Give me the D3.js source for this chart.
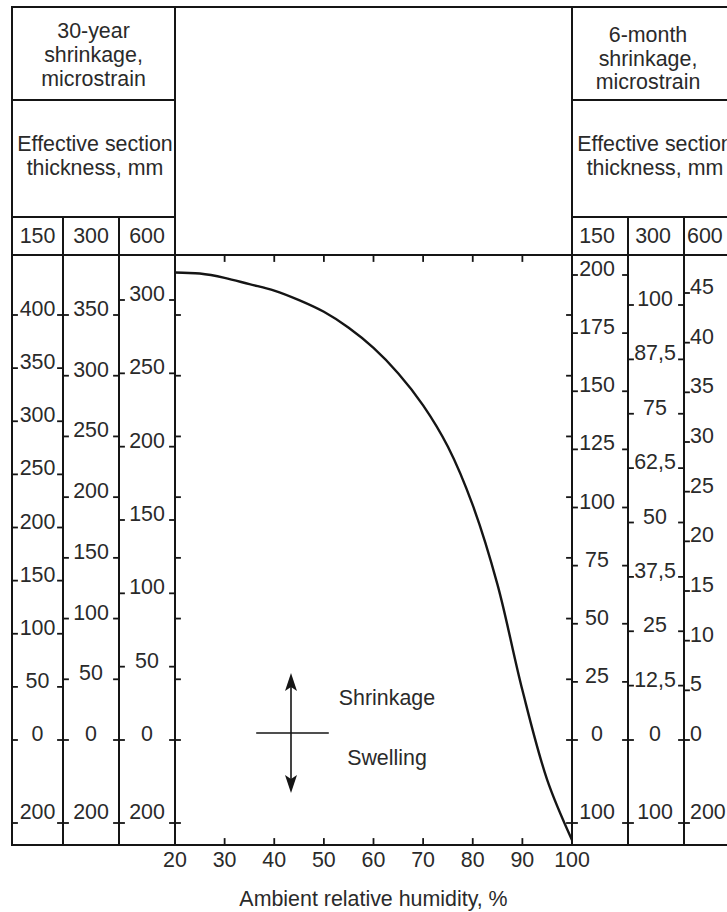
<!DOCTYPE html>
<html><head><meta charset="utf-8">
<script src="https://cdn.jsdelivr.net/npm/d3@7"></script>
<style>
html,body{margin:0;padding:0;background:#fff;}
svg{display:block;}
text{font-family:"Liberation Sans", Arial, Helvetica, sans-serif; fill:#2a2a2a; font-size:21.4px;}
</style></head><body>
<svg id="c" width="727" height="912"></svg>
<script>
// ---- data ----
const humidity = [20,25,30,35,40,45,50,55,60,65,70,75,80,85,90,95,100];
const shrinkage30y150 = [440,439,435,429,423,414,403,388,369,345,315,276,221,146,47,-96,-241];
const xTicks = [20,30,40,50,60,70,80,90,100];
const thicknesses = ["150","300","600"];
const ticks30y150 = [0,50,100,150,200,250,300,350,400];
const ticks30y300 = [0,50,100,150,200,250,300,350];
const ticks30y600 = [0,50,100,150,200,250,300];
const ticks6m150 = [0,25,50,75,100,125,150,175,200];
const ticks6m300 = [0,12.5,25,37.5,50,62.5,75,87.5,100];
const ticks6m600 = [0,5,10,15,20,25,30,35,40,45];
const swelling30y = [200,200,200];
const swelling6m = [100,100,200];
const header30y = ["30-year","shrinkage,","microstrain"];
const header6m = ["6-month","shrinkage,","microstrain"];
const headerThickness = ["Effective section","thickness, mm"];
const xTitle = "Ambient relative humidity, %";
const shrinkLabel = "Shrinkage", swellLabel = "Swelling";

// ---- layout ----
const svg = d3.select("#c");
const W = 727;
const yTop = 7, yH1 = 100, yH2 = 217, yChartTop = 255, yChartBottom = 845, yZero = 740, ySwell = 823;
const leftX = [12,63,119,175], rightX = [572,628,684,740];
const ink = "#151515";

const x = d3.scaleLinear().domain([20,100]).range([175,572]);
function colScale(maxTick, topY, swell){
  return d3.scaleLinear().domain([-swell,0,maxTick]).range([ySwell,yZero,topY]);
}
const leftScales = [colScale(400,315,swelling30y[0]), colScale(350,315,swelling30y[1]), colScale(300,300,swelling30y[2])];
const rightScales = [colScale(200,275,swelling6m[0]), colScale(100,305,swelling6m[1]), colScale(45,293,swelling6m[2])];
const leftTicks = [ticks30y150, ticks30y300, ticks30y600];
const rightTicks = [ticks6m150, ticks6m300, ticks6m600];
const yPlot = leftScales[0];

const fmt = d => String(Math.abs(d)).replace(".", ",");

function line(x1,y1,x2,y2,w){
  svg.append("line").attr("x1",x1).attr("y1",y1).attr("x2",x2).attr("y2",y2)
    .attr("stroke",ink).attr("stroke-width",w||2).attr("stroke-linecap","square");
}

// frame lines
line(leftX[0],yTop,W,yTop);
line(leftX[0],yH1,leftX[3],yH1); line(rightX[0],yH1,W,yH1);
line(leftX[0],yH2,leftX[3],yH2); line(rightX[0],yH2,W,yH2);
line(leftX[0],yChartTop,W,yChartTop);
line(leftX[0],yChartBottom,W,yChartBottom);
[leftX[0],leftX[3],rightX[0]].forEach(v=>line(v,yTop,v,yChartBottom));
[leftX[1],leftX[2],rightX[1],rightX[2]].forEach(v=>line(v,yH2,v,yChartBottom));

// headers
function header(lines, cx, y0, dy){
  lines.forEach((t,i)=>svg.append("text").attr("x",cx).attr("y",y0+i*dy).attr("text-anchor","middle").text(t));
}
header(header30y, 93.5, 38, 24);
header(header6m, 648, 42, 23.5);
header(headerThickness, 95, 151, 23.5);
header(headerThickness, 655, 151, 23.5);
thicknesses.forEach((t,i)=>{
  svg.append("text").attr("x",(leftX[i]+leftX[i+1])/2).attr("y",243).attr("text-anchor","middle").text(t);
});
thicknesses.forEach((t,i)=>{
  const s = svg.append("text").attr("y",243).text(t);
  if(i<2) s.attr("x",(rightX[i]+rightX[i+1])/2 - 3).attr("text-anchor","middle");
  else s.attr("x",rightX[2]+3).attr("text-anchor","start");
});

// nomogram scales
function drawColumn(scale, ticks, swell, xl, xr, labelMode){
  const all = ticks.concat([-swell]);
  all.forEach(t=>{
    const yy = scale(t);
    line(xl,yy,xl+5,yy,1.8);
    line(xr-5,yy,xr,yy,1.8);
    const tx = svg.append("text").attr("y", t<0 ? yy-4 : yy+1).text(fmt(t));
    if(labelMode==="start") tx.attr("x",xl+6).attr("text-anchor","start");
    else tx.attr("x",(xl+xr)/2 + (labelMode||0)).attr("text-anchor","middle");
  });
}
for(let i=0;i<3;i++) drawColumn(leftScales[i], leftTicks[i], swelling30y[i], leftX[i], leftX[i+1], 0);
drawColumn(rightScales[0], rightTicks[0], swelling6m[0], rightX[0], rightX[1], -3);
drawColumn(rightScales[1], rightTicks[1], swelling6m[1], rightX[1], rightX[2], -1);
drawColumn(rightScales[2], rightTicks[2], swelling6m[2], rightX[2], rightX[3], "start");

// inner plot ticks (300 mm 30-year scale)
ticks30y300.concat([-swelling30y[1]]).forEach(t=>{
  const yy = leftScales[1](t);
  line(leftX[3],yy,leftX[3]+5,yy,1.8);
  line(rightX[0]-5,yy,rightX[0],yy,1.8);
});

// x axis ticks
xTicks.slice(1,-1).forEach(v=>{
  line(x(v),yChartBottom,x(v),yChartBottom-6,1.8);
  line(x(v),yChartTop,x(v),yChartTop+6,1.8);
});
xTicks.forEach(v=>{
  svg.append("text").attr("x",x(v)).attr("y",867).attr("text-anchor","middle").text(v);
});
svg.append("text").attr("x",(x(20)+x(100))/2).attr("y",906).attr("text-anchor","middle").text(xTitle);

// curve
const pts = humidity.map((h,i)=>[x(h), yPlot(shrinkage30y150[i])]);
svg.append("path").attr("d", d3.line().curve(d3.curveCatmullRom.alpha(0.5))(pts))
  .attr("fill","none").attr("stroke",ink).attr("stroke-width",2.4);

// direction symbol
const ax = 291, ayTop = 673, ayBot = 793, ayMid = 733;
line(ax, ayTop+8, ax, ayBot-8, 1.6);
line(257, ayMid, 328, ayMid, 1.6);
svg.append("path").attr("d",`M${ax},${ayTop} L${ax+6},${ayTop+18} L${ax},${ayTop+14} L${ax-6},${ayTop+18} Z`).attr("fill",ink);
svg.append("path").attr("d",`M${ax},${ayBot} L${ax+6},${ayBot-18} L${ax},${ayBot-14} L${ax-6},${ayBot-18} Z`).attr("fill",ink);
svg.append("text").attr("x",387).attr("y",705).attr("text-anchor","middle").text(shrinkLabel);
svg.append("text").attr("x",387).attr("y",765).attr("text-anchor","middle").text(swellLabel);
</script>
</body></html>
